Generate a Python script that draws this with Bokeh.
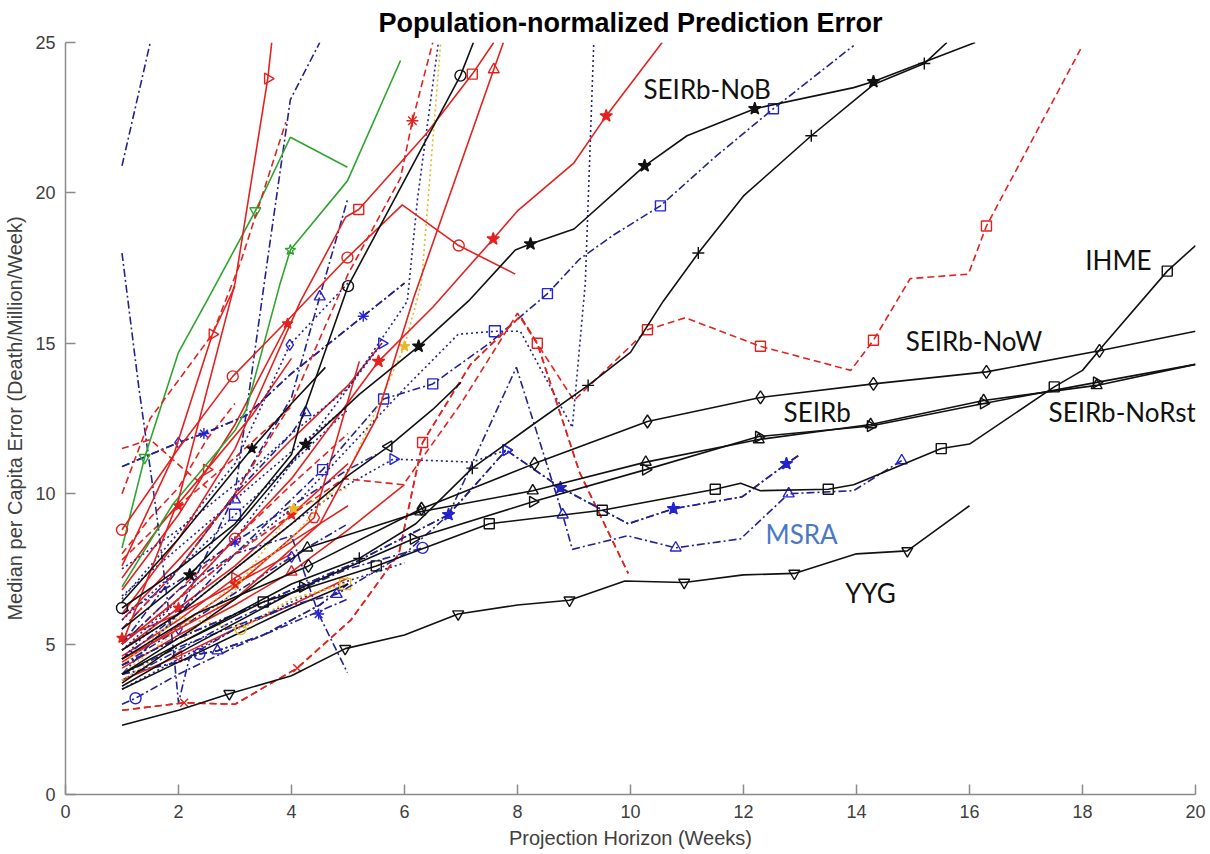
import math
from bokeh.plotting import figure
from bokeh.models import FixedTicker, Range1d
from bokeh.core.properties import value
from bokeh.embed import file_html
from bokeh.resources import INLINE

# ---------------- data ----------------
x_ticks = [0, 2, 4, 6, 8, 10, 12, 14, 16, 18, 20]
y_ticks = [0, 5, 10, 15, 20, 25]

# labelled black models
seirb_nob_x = [1, 2.2, 3.2, 4.25, 5.2, 6.25, 7.13, 7.96, 8.23, 9.0, 10.25, 11.0, 12.2, 13.95, 14.3, 16.1]
seirb_nob_y = [5.5, 7.3, 9.3, 11.64, 13.3, 14.9, 16.4, 18.1, 18.3, 18.8, 20.9, 21.9, 22.8, 23.5, 23.7, 25.0]
seirb_now_x = [1, 2.3, 4.3, 6.3, 8.3, 10.3, 12.3, 14.3, 16.3, 18.3, 20]
seirb_now_y = [4.5, 6.0, 7.6, 9.5, 11.0, 12.4, 13.2, 13.65, 14.05, 14.75, 15.4]
seirb_x = [1, 2.25, 4.28, 6.28, 8.27, 10.27, 12.27, 14.25, 16.25, 18.25, 20]
seirb_y = [4.0, 5.5, 8.2, 9.4, 10.1, 11.05, 11.8, 12.3, 13.1, 13.6, 14.3]
seirb_norst_x = [1, 2.2, 4.2, 6.16, 8.27, 10.27, 12.27, 14.25, 16.25, 18.25, 20]
seirb_norst_y = [3.6, 4.9, 6.9, 8.5, 9.73, 10.8, 11.9, 12.25, 13.0, 13.7, 14.3]
ihme_x = [1, 2, 3.5, 5.5, 7.5, 9.5, 11.5, 11.95, 12.3, 13.5, 13.95, 15.5, 16, 17.5, 18, 18.4, 19.5, 20]
ihme_y = [3.7, 5.0, 6.4, 7.6, 9.0, 9.45, 10.15, 10.35, 10.1, 10.15, 10.3, 11.5, 11.65, 13.55, 14.1, 15.0, 17.4, 18.25]
yyg_x = [1, 2, 2.9, 4, 4.95, 6, 6.95, 8, 8.92, 9.9, 10.95, 12, 12.9, 14, 14.9, 16]
yyg_y = [2.3, 2.8, 3.35, 3.95, 4.85, 5.3, 6.0, 6.3, 6.46, 7.1, 7.05, 7.3, 7.35, 8.0, 8.1, 9.6]
msra_star_x = [1, 2, 3, 4, 5, 6.78, 7.8, 8.76, 9.96, 10.76, 11.98, 12.76, 13.0]
msra_star_y = [4.3, 5.2, 6.0, 6.8, 7.6, 9.3, 11.45, 10.2, 9.0, 9.5, 9.9, 11.0, 11.3]
msra_tri_x = [1, 2, 3, 4, 4.8, 6.0, 6.78, 7.98, 8.8, 8.97, 9.95, 10.8, 11.95, 12.8, 13.95, 14.8]
msra_tri_y = [4.0, 4.9, 5.6, 6.3, 6.66, 8.0, 9.3, 14.2, 9.3, 8.15, 8.6, 8.2, 8.5, 10.0, 10.1, 11.1]

# other distinctive curves
black_plus_x = [1, 2, 3, 4, 5.2, 6.2, 7.2, 8.2, 9.25, 10.0, 10.58, 11.2, 12.0, 13.2, 14.3, 15.2, 15.6]
black_plus_y = [4.0, 5.0, 6.0, 7.0, 7.85, 9.0, 10.85, 12.2, 13.6, 14.7, 16.4, 18.0, 19.9, 21.9, 23.6, 24.3, 25.0]
black_circ_x = [1, 2, 3, 4, 4.16, 5.0, 6.99, 7.22]
black_circ_y = [6.2, 7.5, 9.0, 11.3, 12.4, 16.9, 23.9, 25.0]
black_left_x = [1, 2, 3, 4, 5, 5.72, 6.5, 7.0]
black_left_y = [4.8, 6.0, 7.5, 9.0, 10.6, 11.57, 12.8, 13.7]
black_star2_x = [1, 2, 3.3, 4, 4.6]
black_star2_y = [6.4, 8.5, 11.5, 13.0, 14.2]
red_sq_dash_x = [1, 2, 3, 4, 4.92, 5.98, 7.0, 8.0, 9.0, 10.3, 10.97, 12.3, 13.9, 14.3, 14.95, 15.98, 16.3, 18.0]
red_sq_dash_y = [5.0, 6.5, 8.0, 9.3, 10.5, 10.3, 13.0, 16.0, 13.1, 15.45, 15.85, 14.9, 14.1, 15.1, 17.15, 17.3, 18.9, 24.9]
red_peak_dash_x = [1, 2.1, 3, 4.1, 5.05, 5.9, 6.32, 7.17, 8.05, 8.35, 9.1, 9.96]
red_peak_dash_y = [2.8, 3.05, 3.0, 4.2, 5.8, 8.0, 11.7, 14.3, 15.9, 15.0, 10.7, 7.35]
blue_sq_x = [1, 2, 3, 4.55, 5.63, 6.5, 7.5, 8.53, 9.1, 9.7, 10.53, 11.5, 12.53, 13.95]
blue_sq_y = [4.5, 6.0, 8.0, 10.8, 13.15, 13.65, 15.0, 16.65, 17.8, 18.6, 19.57, 21.2, 22.8, 24.9]
blue_vert_x = [1, 2, 3, 4, 5, 6, 6.95, 7.6, 8.05, 8.97, 9.2, 9.35]
blue_vert_y = [4.8, 6.5, 8.0, 9.5, 11.5, 13.5, 15.3, 15.4, 15.4, 12.2, 17.0, 25.0]
red_star_x = [1, 2, 3, 4, 5.54, 6.5, 7.57, 8.0, 9.0, 9.57, 10.56]
red_star_y = [5.0, 6.5, 8.5, 10.5, 14.4, 16.2, 18.47, 19.4, 21.0, 22.56, 25.0]
red_circ_x = [1, 2, 2.96, 4, 4.99, 5.96, 6.96, 7.96]
red_circ_y = [8.8, 11.5, 13.9, 15.9, 17.85, 19.6, 18.25, 17.3]
red_sq_x = [1, 2, 3, 4.16, 4.96, 5.19, 6.4, 7.2, 7.58]
red_sq_y = [6.0, 8.5, 11.5, 16.4, 19.2, 19.45, 22.0, 23.95, 25.0]
red_tri_x = [1, 3, 4.5, 5.5, 6.16, 7.58, 7.75]
red_tri_y = [4.5, 6.5, 9.0, 12.5, 16.5, 24.1, 25.0]
red_ast_x = [1, 2, 3, 4, 5, 5.93, 6.14, 6.5]
red_ast_y = [5.5, 7.5, 10.0, 13.0, 17.3, 20.5, 22.4, 25.0]
red_right_x = [1, 2, 3, 3.58, 3.65]
red_right_y = [5.0, 9.8, 17.0, 23.8, 25.0]
red_right2_x = [1, 1.9, 2.6, 3.0]
red_right2_y = [7.6, 11.2, 15.3, 16.9]
green1_x = [1, 1.4, 2, 2.5, 3.36, 3.98, 4.99]
green1_y = [8.2, 11.2, 14.7, 16.4, 19.4, 21.85, 20.85]
green2_x = [1, 1.9, 3.0, 3.2, 3.8, 3.98, 4.99, 5.93]
green2_y = [6.9, 9.65, 12.1, 12.8, 17.0, 18.1, 20.4, 24.4]
navy_top_x = [1, 1.5]
navy_top_y = [20.9, 25.0]
navy_steep_x = [1, 1.3, 1.6, 1.9, 2.0, 2.2, 3, 4]
navy_steep_y = [18.0, 13.5, 9.5, 5.0, 3.05, 4.6, 5.5, 6.3]
navy_diam_x = [1, 2, 2.45, 3.2, 4, 5.27, 6.0]
navy_diam_y = [10.9, 11.7, 12.0, 12.6, 14.0, 15.9, 17.0]
yellow1_x = [1, 2, 3, 4, 5, 6.0, 6.3, 6.64]
yellow1_y = [4.0, 5.5, 7.0, 8.5, 10.7, 14.9, 17.0, 25.0]
yellow2_x = [1, 2, 3.1, 4, 4.95]
yellow2_y = [4.3, 5.9, 5.5, 6.5, 7.0]
yellow3_x = [1, 2, 3, 4.04, 5]
yellow3_y = [3.8, 5.0, 6.8, 9.5, 10.2]
blue_top_x = [1, 2, 3, 4, 5, 6.05, 6.23, 6.6]
blue_top_y = [4.5, 6.5, 8.5, 11.0, 13.5, 16.4, 19.8, 25.0]
navy_b2_x = [1, 2, 3, 4, 4.5, 4.99]
navy_b2_y = [5.5, 7.5, 10.0, 13.2, 16.55, 19.77]
navy_b3_x = [1, 2, 3, 3.57, 3.98, 4.5]
navy_b3_y = [4.0, 6.0, 10.0, 17.7, 23.1, 25.0]
navy_b5_x = [1, 2, 3, 4, 4.48, 4.99]
navy_b5_y = [5.0, 6.8, 8.0, 8.6, 6.0, 4.05]
red_dash1_x = [1, 1.5, 2.6, 3.1, 3.9]
red_dash1_y = [10.0, 12.5, 15.3, 17.7, 22.35]
red_dash2_x = [1, 1.5, 2.1, 2.5]
red_dash2_y = [11.5, 11.8, 10.8, 10.2]
blue_dot_tri_x = [1, 2, 3, 4, 5, 5.8, 7.2, 7.8]
blue_dot_tri_y = [4.8, 6.0, 7.5, 9.0, 10.3, 11.15, 11.05, 11.45]

# dense bundle at short horizons
c1_x = [1, 2, 3, 3.93]
c1_y = [6.8, 9.3, 12.3, 15.65]
c2_x = [1, 2, 3, 4, 5, 5.6]
c2_y = [5.8, 7.8, 9.9, 11.8, 13.6, 15.0]
c3_x = [1, 1.7, 2.5, 3.3, 4.0]
c3_y = [7.2, 9.0, 10.8, 12.6, 14.5]
c4_x = [1, 2, 3, 4, 5]
c4_y = [4.8, 6.2, 7.6, 9.3, 11.0]
c5_x = [1, 2, 3, 4, 5, 6]
c5_y = [4.2, 5.3, 6.3, 7.4, 8.8, 10.3]
c6_x = [1, 2, 3, 4]
c6_y = [5.2, 6.0, 7.0, 8.0]
c7_x = [1, 2, 3, 4, 5]
c7_y = [5.0, 6.8, 8.5, 10.3, 12.0]
c8_x = [1, 1.5, 2, 2.5, 3]
c8_y = [8.0, 9.2, 10.2, 11.8, 13.0]
c9_x = [1, 2, 3, 4, 5]
c9_y = [4.3, 5.5, 6.7, 7.9, 9.0]
c10_x = [1, 2, 3, 4, 5]
c10_y = [5.8, 7.5, 9.3, 11.0, 12.8]
c11_x = [1, 2, 3, 4, 5, 6]
c11_y = [3.5, 4.5, 5.5, 6.4, 7.1, 7.7]
c12_x = [1, 1.24, 2, 3, 4, 5]
c12_y = [3.0, 3.2, 4.0, 4.9, 5.7, 6.5]
c13_x = [1, 2, 2.37, 2.69, 3.5, 4.5, 5]
c13_y = [4.0, 4.4, 4.67, 4.78, 5.3, 6.3, 7.0]
c15_x = [1, 2, 3, 4, 5, 6.32]
c15_y = [3.8, 4.8, 5.8, 6.7, 7.5, 8.2]
c17_x = [1, 2, 3, 3.97, 5]
c17_y = [6.5, 8.7, 11.0, 14.95, 17.0]
c18_x = [1, 2, 3, 4, 5, 5.6]
c18_y = [7.5, 8.8, 10.3, 12.0, 13.5, 15.0]
c19_x = [1, 2, 3, 4, 4.25]
c19_y = [5.0, 7.5, 10.0, 12.0, 12.7]
c24_x = [1, 2, 3, 4, 5]
c24_y = [3.8, 4.6, 5.5, 6.3, 7.2]
c25_x = [1, 2, 3, 4, 5]
c25_y = [3.5, 4.4, 5.3, 6.2, 7.0]
c26_x = [1, 2, 3, 4.4, 5.2]
c26_y = [4.4, 5.6, 6.9, 9.2, 14.4]
c27_x = [1, 2, 3, 4, 5, 5.5]
c27_y = [6.0, 7.1, 8.4, 9.6, 10.8, 11.3]
c28_x = [1, 2, 3, 4, 5]
c28_y = [6.6, 8.2, 9.8, 11.4, 12.9]
c29_x = [1, 2, 3, 4]
c29_y = [7.8, 9.6, 11.2, 12.9]
c30_x = [1, 2, 3, 4, 5]
c30_y = [4.6, 5.8, 7.2, 8.4, 9.6]

label_text = ["SEIRb-NoB", "IHME", "SEIRb-NoW", "SEIRb", "SEIRb-NoRst", "MSRA", "YYG"]
label_x = [10.23, 18.05, 14.87, 12.71, 17.4, 12.39, 13.8]
label_y = [23.45, 17.78, 15.09, 12.7, 12.7, 8.66, 6.7]

# ---------------- styles ----------------
BLACK = "#111111"
RED = "#e3221f"
NAVY = "#23238f"
BLUE = "#2424d6"
GREEN = "#2ea52e"
YELLOW = "#e8b923"
DASH = "7 4"
DOT = "2 3"
DASHDOT = "8 3 2 3"
RIGHT = -math.pi / 2
LEFT = math.pi / 2

p = figure(width=1210, height=854, output_backend="svg", toolbar_location=None,
           x_range=Range1d(0, 20), y_range=Range1d(0, 25),
           min_border_left=65, min_border_right=15, min_border_top=40, min_border_bottom=60)
p.background_fill_color = "white"
p.border_fill_color = "white"
p.outline_line_color = None
p.grid.grid_line_color = None


def add(x, y, color, dash="solid", marker=None, idx=(), mcolor=None, fill=False, angle=0.0, size=11):
    p.line(x, y, line_color=color, line_dash=dash, line_width=1.6)
    if marker:
        mc = mcolor or color
        p.scatter([x[i] for i in idx], [y[i] for i in idx], marker=marker, size=size,
                  line_color=mc, fill_color=mc if fill else None, angle=angle, line_width=1.4)


# bundle
add(c1_x, c1_y, RED, marker="star", idx=[3], fill=True)
add(c2_x, c2_y, RED)
add(c3_x, c3_y, RED, marker="triangle", idx=[2], angle=RIGHT)
add(c4_x, c4_y, RED, marker="star", idx=[1, 3], fill=True)
add(c5_x, c5_y, RED, marker="triangle", idx=[3])
add(c6_x, c6_y, RED, marker="star", idx=[0, 2], fill=True)
add(c7_x, c7_y, RED, DASH, marker="circle", idx=[2])
add(c8_x, c8_y, RED, DASH)
add(c9_x, c9_y, NAVY, DASHDOT, marker="diamond", idx=[1, 3], mcolor=BLUE)
add(c10_x, c10_y, NAVY, DOT, marker="square", idx=[2], mcolor=BLUE)
add(c11_x, c11_y, NAVY, DOT)
add(c12_x, c12_y, NAVY, DASHDOT, marker="circle", idx=[1], mcolor=BLUE)
add(c13_x, c13_y, NAVY, DASHDOT, marker="circle", idx=[2], mcolor=BLUE)
add(c13_x, c13_y, NAVY, DASHDOT, marker="triangle", idx=[3], mcolor=BLUE)
add(c15_x, c15_y, NAVY, DASHDOT, marker="circle", idx=[5], mcolor=BLUE)
add(c17_x, c17_y, NAVY, DOT, marker="diamond", idx=[3], mcolor=BLUE)
add(c18_x, c18_y, NAVY, DOT, marker="triangle", idx=[5], mcolor=BLUE, angle=RIGHT)
add(c19_x, c19_y, NAVY, DASHDOT, marker="triangle", idx=[4], mcolor=BLUE)
add(c24_x, c24_y, RED, marker="triangle", idx=[1], angle=LEFT)
add(c25_x, c25_y, BLACK)
add(c26_x, c26_y, RED, marker="hex", idx=[3])
add(c27_x, c27_y, NAVY, DASHDOT, marker="asterisk", idx=[2], mcolor=BLUE)
add(c28_x, c28_y, NAVY, DOT, marker="triangle", idx=[2], mcolor=BLUE)
add(c29_x, c29_y, RED, DASH, marker="star", idx=[1], fill=True)
add(c30_x, c30_y, RED, marker="triangle", idx=[2], angle=RIGHT)

# distinctive coloured curves
add(navy_top_x, navy_top_y, NAVY, DASHDOT)
add(navy_steep_x, navy_steep_y, NAVY, DASHDOT)
add(navy_diam_x, navy_diam_y, NAVY, DASHDOT, marker="diamond", idx=[1], mcolor=BLUE)
add(navy_diam_x, navy_diam_y, NAVY, DASHDOT, marker="asterisk", idx=[2, 5], mcolor=BLUE)
add(navy_b2_x, navy_b2_y, NAVY, DASHDOT, marker="triangle", idx=[4], mcolor=BLUE)
add(navy_b3_x, navy_b3_y, NAVY, DASHDOT)
add(navy_b5_x, navy_b5_y, NAVY, DASHDOT, marker="asterisk", idx=[4], mcolor=BLUE)
add(blue_top_x, blue_top_y, NAVY, DOT)
add(blue_dot_tri_x, blue_dot_tri_y, NAVY, DOT, marker="triangle", idx=[5, 7], mcolor=BLUE, angle=RIGHT)
add(blue_vert_x, blue_vert_y, NAVY, DOT, marker="square", idx=[7], mcolor=BLUE)
add(blue_sq_x, blue_sq_y, NAVY, DASHDOT, marker="square", idx=[3, 4, 5, 7, 10, 12], mcolor=BLUE, size=10)
add(yellow1_x, yellow1_y, YELLOW, DOT, marker="star", idx=[5], fill=True)
add(yellow2_x, yellow2_y, YELLOW, DOT, marker="circle", idx=[2])
add(yellow2_x, yellow2_y, YELLOW, DOT, marker="square", idx=[4])
add(yellow3_x, yellow3_y, YELLOW, DOT, marker="star", idx=[3], fill=True)
add(green1_x, green1_y, GREEN, marker="inverted_triangle", idx=[1, 4])
add(green2_x, green2_y, GREEN, marker="star", idx=[5])
add(red_dash1_x, red_dash1_y, RED, DASH)
add(red_dash2_x, red_dash2_y, RED, DASH)
add(red_right_x, red_right_y, RED, marker="triangle", idx=[3], angle=RIGHT)
add(red_right2_x, red_right2_y, RED, marker="triangle", idx=[2], angle=RIGHT)
add(red_ast_x, red_ast_y, RED, DASH, marker="asterisk", idx=[6], size=12)
add(red_tri_x, red_tri_y, RED, marker="triangle", idx=[5])
add(red_sq_x, red_sq_y, RED, marker="square", idx=[5, 7], size=10)
add(red_circ_x, red_circ_y, RED, marker="circle", idx=[0, 2, 4, 6])
add(red_star_x, red_star_y, RED, marker="star", idx=[4, 6, 9], fill=True, size=13)
add(red_peak_dash_x, red_peak_dash_y, RED, DASH, marker="square", idx=[6, 9], size=10)
add(red_peak_dash_x, red_peak_dash_y, RED, DASH, marker="x", idx=[1, 3])
add(red_sq_dash_x, red_sq_dash_y, RED, DASH, marker="square", idx=[9, 11, 13, 16], size=10)

# blue MSRA family
add(msra_tri_x, msra_tri_y, NAVY, DASHDOT, marker="triangle", idx=[4, 8, 11, 13, 15], mcolor=BLUE)
add(msra_star_x, msra_star_y, NAVY, DASHDOT, marker="star", idx=[5, 7, 9, 11], mcolor=BLUE, fill=True, size=13)
add(msra_star_x, msra_star_y, NAVY, DASHDOT, marker="triangle", idx=[6], mcolor=BLUE, angle=RIGHT)

# black curves
add(black_star2_x, black_star2_y, BLACK, marker="star", idx=[2], fill=True)
add(black_left_x, black_left_y, BLACK, marker="triangle", idx=[5], angle=LEFT)
add(black_circ_x, black_circ_y, BLACK, marker="circle", idx=[0, 5, 6])
add(black_plus_x, black_plus_y, BLACK, marker="cross", idx=[4, 6, 8, 11, 13, 15], size=12)
add(yyg_x, yyg_y, BLACK, marker="inverted_triangle", idx=[2, 4, 6, 8, 10, 12, 14])
add(ihme_x, ihme_y, BLACK, marker="square", idx=[2, 3, 4, 5, 6, 9, 11, 13, 16], size=10)
add(seirb_norst_x, seirb_norst_y, BLACK, marker="triangle", idx=[2, 3, 4, 5, 6, 7, 8, 9], angle=RIGHT)
add(seirb_x, seirb_y, BLACK, marker="triangle", idx=[2, 3, 4, 5, 6, 7, 8, 9])
add(seirb_now_x, seirb_now_y, BLACK, marker="diamond", idx=[2, 3, 4, 5, 6, 7, 8, 9], size=13)
add(seirb_nob_x, seirb_nob_y, BLACK, marker="star", idx=[1, 3, 5, 8, 10, 12, 14], fill=True, size=13)

# model labels
label_colors = [BLACK, BLACK, BLACK, BLACK, BLACK, "#4a78c6", BLACK]
p.text(x=label_x, y=label_y, text=label_text, text_color=label_colors,
       text_font=value("Lato"), text_font_size="26px",
       text_align="left", text_baseline="middle")

# axes
p.xaxis.ticker = FixedTicker(ticks=x_ticks)
p.yaxis.ticker = FixedTicker(ticks=y_ticks)
for ax in (p.xaxis[0], p.yaxis[0]):
    ax.axis_line_color = "#8a8a8a"
    ax.axis_line_width = 1.5
    ax.major_tick_line_color = "#8a8a8a"
    ax.major_tick_line_width = 1.5
    ax.major_tick_in = 10
    ax.major_tick_out = 0
    ax.minor_tick_line_color = None
    ax.major_label_text_font = "Liberation Sans"
    ax.major_label_text_font_size = "18px"
    ax.major_label_text_color = "#404040"
    ax.major_label_standoff = 10
    ax.axis_label_text_font = "Liberation Sans"
    ax.axis_label_text_font_size = "20px"
    ax.axis_label_text_font_style = "normal"
    ax.axis_label_text_color = "#404040"
    ax.axis_label_standoff = 6
p.xaxis.axis_label = "Projection Horizon (Weeks)"
p.yaxis.axis_label = "Median per Capita Error (Death/Million/Week)"

p.title.text = "Population-normalized Prediction Error"
p.title.align = "center"
p.title.text_font = "Liberation Sans"
p.title.text_font_size = "27px"
p.title.text_font_style = "bold"
p.title.text_color = "#000000"

open("out.html", "w").write(file_html(p, INLINE))
